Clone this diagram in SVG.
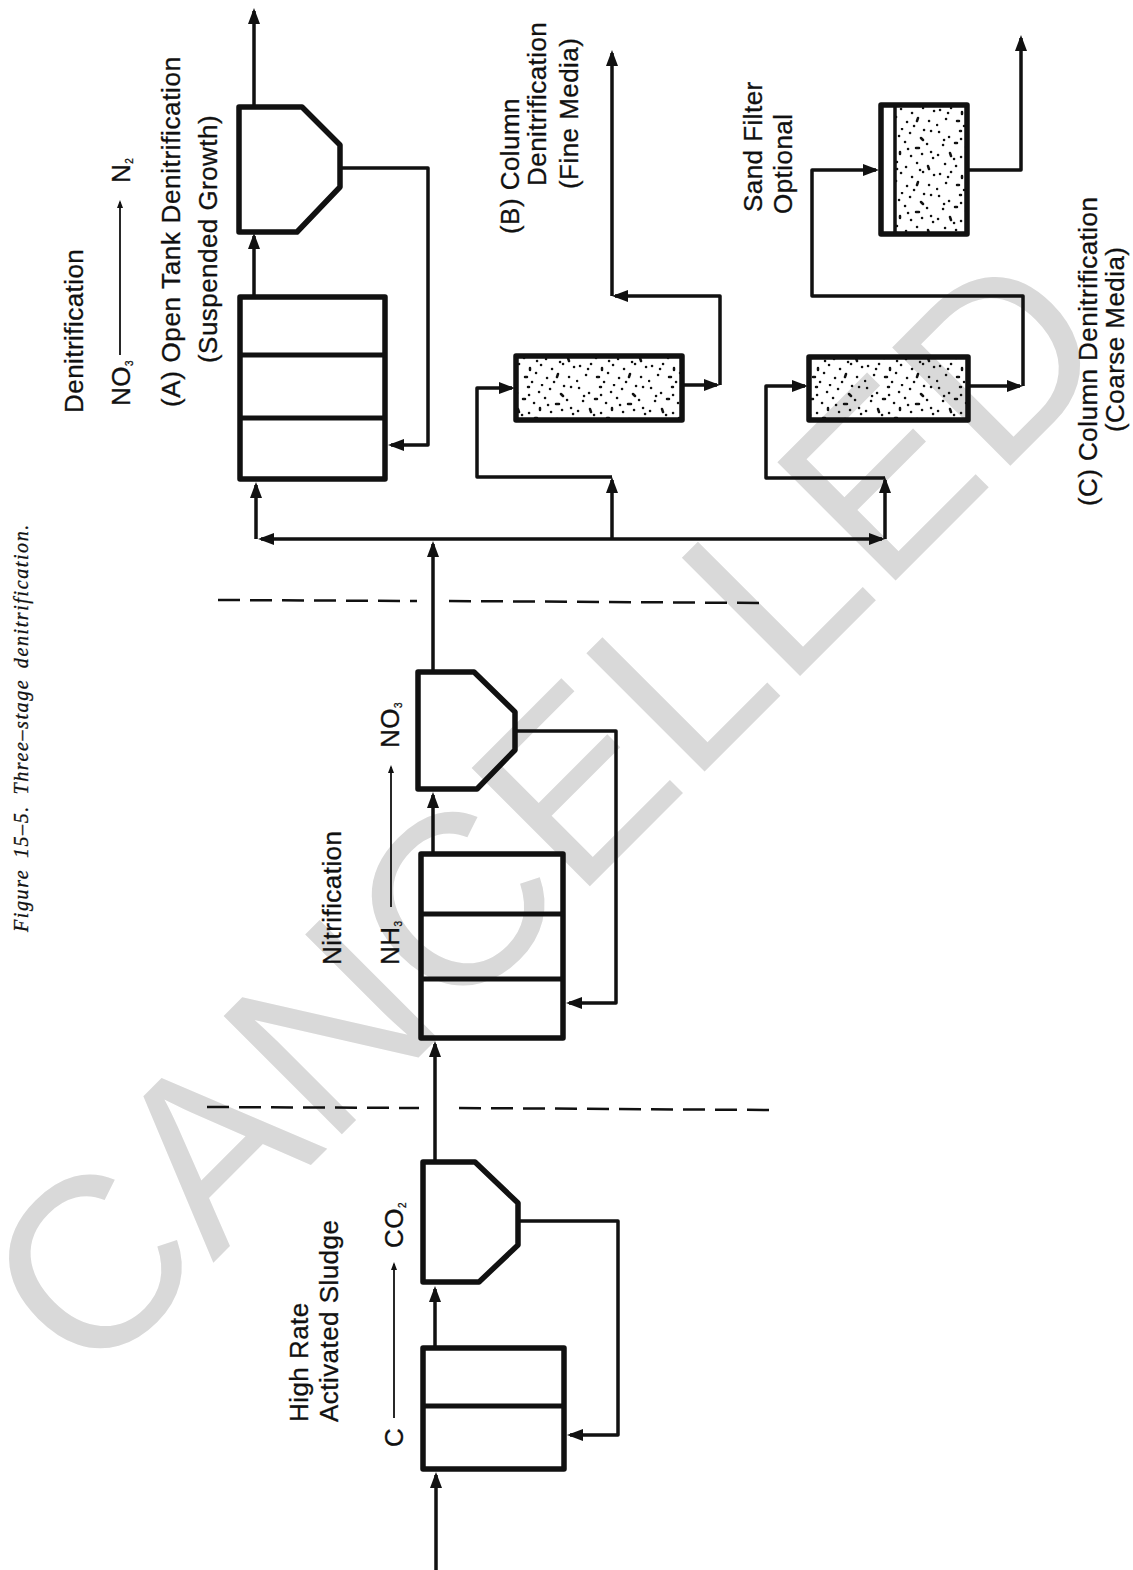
<svg xmlns="http://www.w3.org/2000/svg" width="1133" height="1570" viewBox="0 0 1133 1570">
<style>
text{font-family:"Liberation Sans",Arial,sans-serif;fill:#111;font-size:26px;letter-spacing:.45px;stroke:#111;stroke-width:.3}
text.cap{font-family:"Liberation Serif","Times New Roman",serif;font-style:italic;font-size:20px;letter-spacing:1.6px;word-spacing:4px}
text.wm{font-size:243px;fill:#d9d9d9;stroke:none;letter-spacing:0}
.tank{fill:none;stroke:#111;stroke-width:5.500;stroke-linejoin:round}
.div{stroke:#111;stroke-width:5;fill:none}
.c{fill:none;stroke:#111;stroke-width:3.500;stroke-linejoin:round;marker-end:url(#ah)}
.n{fill:none;stroke:#111;stroke-width:3.500;stroke-linejoin:round}
.t{fill:none;stroke:#111;stroke-width:1.800;marker-end:url(#sh)}
.d{fill:none;stroke:#111;stroke-width:2.500;stroke-dasharray:22 10}
text .sub{font-size:10px;letter-spacing:0}
</style>
<defs>
<marker id="ah" markerUnits="userSpaceOnUse" markerWidth="18" markerHeight="14" refX="13" refY="7" orient="auto"><path d="M0 1L16 7L0 13Z" fill="#111"/></marker>
<marker id="sh" markerUnits="userSpaceOnUse" markerWidth="10" markerHeight="8" refX="6" refY="4" orient="auto"><path d="M0 1L8 4L0 7Z" fill="#111"/></marker>
<pattern id="sand" patternUnits="userSpaceOnUse" width="72" height="64">
<path fill="none" stroke="#111" stroke-width="2.500" stroke-linecap="round" d="M3 4h.1M13 9h.1M24 3h1M35 8h.1M46 5h.1M57 10l2 2M67 3h.1M7 17h.1M19 15h2M30 19h.1M41 14h.1M52 20h3M63 16h.1M2 27h.1M14 25l1 3M25 29h.1M36 24v2M47 28h.1M58 26h.1M69 30h.1M9 36h.1M20 38h.1M31 34h2M42 39h.1M53 35h.1M64 38l1 3M4 46h.1M15 44h.1M26 48v2M37 45h.1M48 49h.1M59 44h.1M70 47h.1M10 55h.1M21 57h2M32 53h.1M43 58h.1M54 54l-1 3M65 57h.1M1 61h.1M28 62h.1M50 62h.1M8 12h.1M38 1h.1M60 2h.1M18 31h.1M44 21h.1M67 24h.1M12 49h.1M33 41h.1M56 42h.1M25 11h.1"/>
</pattern>
</defs>
<rect width="1133" height="1570" fill="#fff"/>
<text id="watermark" class="wm" transform="translate(89,1387) rotate(-45)">CANCELLED</text>
<text class="cap" transform="translate(28,932) rotate(-90)">Figure 15–5. Three–stage denitrification.</text>

<g id="connectors">
<path class="c" d="M436 1570V1475"/>
<path class="c" d="M435 1348V1289"/>
<path class="c" d="M518 1221H618V1435H570"/>
<path class="c" d="M435 1162V1044"/>
<path class="c" d="M433 854V795"/>
<path class="c" d="M515 731H616V1003H569"/>
<path class="c" d="M433 672V544"/>
<path class="c" d="M433 539H261"/>
<path class="c" d="M433 539H882"/>
<path class="c" d="M256 539V485"/>
<path class="c" d="M612 539V480"/>
<path class="c" d="M885 539V480"/>
<path class="c" d="M254 297V236"/>
<path class="c" d="M254 107V11"/>
<path class="c" d="M340 168H428V445H391"/>
<path class="c" d="M612 477H477V388H512"/>
<path class="c" d="M885 478H766V386H805"/>
<path class="c" d="M682 385H717"/>
<path class="n" d="M720 385V296H625"/>
<path class="c" d="M625 296H615"/>
<path class="c" d="M612 296V53"/>
<path class="c" d="M968 386H1020"/>
<path class="n" d="M1023 386V296H812V170H850"/>
<path class="c" d="M850 170H876"/>
<path class="c" d="M966 170H1021V38"/>
<path class="t" d="M394 1418V1264"/>
<path class="t" d="M391 907V767"/>
<path class="t" d="M120 355V202"/>
<path class="d" d="M218 600L417 601M449 601L763 603"/>
<path class="d" d="M207 1107L419 1108M459 1108L769 1110"/>
</g>

<g id="aeration-c"><rect class="tank" x="423" y="1348" width="141" height="121"/><path class="div" d="M423 1406H564"/></g>
<g id="clarifier-c"><path class="tank" d="M423 1162H475L518 1203V1245L479 1282H423Z"/></g>
<g id="aeration-n"><rect class="tank" x="421" y="854" width="142" height="184"/><path class="div" d="M421 914H563M421 979H563"/></g>
<g id="clarifier-n"><path class="tank" d="M418 672H474L515 712V750L477 789H418Z"/></g>
<g id="aeration-d"><rect class="tank" x="240" y="297" width="145" height="182"/><path class="div" d="M240 355H385M240 418H385"/></g>
<g id="clarifier-d"><path class="tank" d="M239 107H302L340 145V187L297 232H239Z"/></g>
<g id="column-b"><rect class="tank" x="516" y="356" width="166" height="64" style="fill:url(#sand)"/></g>
<g id="column-c"><rect class="tank" x="809" y="357" width="159" height="63" style="fill:url(#sand)"/></g>
<g id="sand-filter"><rect x="895" y="105" width="72" height="129" style="fill:url(#sand)"/><rect class="tank" x="881" y="105" width="86" height="129"/><path class="n" d="M895 105V234"/></g>

<g id="labels">
<text transform="translate(308,1422) rotate(-90)">High Rate</text>
<text transform="translate(338,1422) rotate(-90)">Activated Sludge</text>
<text transform="translate(403,1447) rotate(-90)">C</text>
<text transform="translate(403,1248) rotate(-90)">CO<tspan class="sub" dy="3">2</tspan></text>
<text transform="translate(341,965) rotate(-90)">Nitrification</text>
<text transform="translate(399,965) rotate(-90)">NH<tspan class="sub" dy="3">3</tspan></text>
<text transform="translate(399,748) rotate(-90)">NO<tspan class="sub" dy="3">3</tspan></text>
<text transform="translate(83,413) rotate(-90)">Denitrification</text>
<text transform="translate(130,406) rotate(-90)">NO<tspan class="sub" dy="3">3</tspan></text>
<text transform="translate(130,183) rotate(-90)">N<tspan class="sub" dy="3">2</tspan></text>
<text transform="translate(180,407) rotate(-90)" style="letter-spacing:.65px">(A) Open Tank Denitrification</text>
<text transform="translate(217,363) rotate(-90)">(Suspended Growth)</text>
<text transform="translate(519,234) rotate(-90)">(B) Column</text>
<text transform="translate(546,186) rotate(-90)">Denitrification</text>
<text transform="translate(578,189) rotate(-90)">(Fine Media)</text>
<text transform="translate(762,212) rotate(-90)">Sand Filter</text>
<text transform="translate(792,214) rotate(-90)">Optional</text>
<text transform="translate(1097,506) rotate(-90)">(C) Column Denitrification</text>
<text transform="translate(1124,432) rotate(-90)">(Coarse Media)</text>
</g>
</svg>
